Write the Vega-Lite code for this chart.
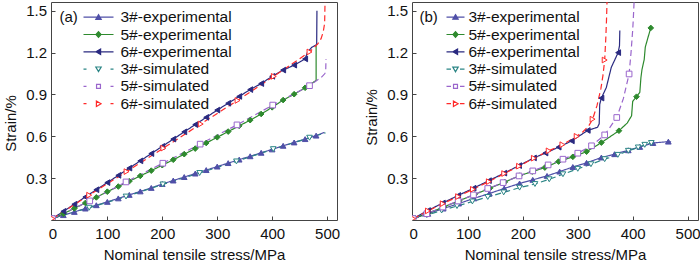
{
"$schema": "https://vega.github.io/schema/vega-lite/v6.json",
"background": "white",
"padding": {"left": 2, "top": 1, "right": 1, "bottom": 0},
"spacing": 22,
"config": {
  "font": "Liberation Sans",
  "view": {"stroke": "#444", "strokeWidth": 1},
  "axis": {"domain": false, "grid": false, "tickColor": "#444", "tickSize": -4, "tickWidth": 1, "labelFontSize": 15, "labelColor": "#111", "titleFontSize": 15, "titleFontWeight": "normal", "titleColor": "#111", "labelFlush": false, "labelOverlap": false},
  "axisX": {"labelPadding": 10.5, "titleY": 27},
  "axisY": {"labelPadding": 8.5, "titleX": -33},
  "legend": {"orient": "none", "titleOrient": "left", "titleAnchor": "start", "titleFontSize": 15, "titleFontWeight": "normal", "titleColor": "#111", "labelFontSize": 15.5, "labelColor": "#111", "clipHeight": 15, "rowPadding": 1.3, "padding": 0, "symbolStrokeWidth": 1.2, "symbolOpacity": 1, "titleBaseline": "top"}
},
"resolve": {
  "scale": {"color": "independent", "stroke": "independent", "fill": "independent", "shape": "independent", "strokeDash": "independent"},
  "legend": {"color": "independent", "stroke": "independent", "fill": "independent", "shape": "independent", "strokeDash": "independent"}
},
"datasets": {"d": [
{"p":"a","s":"3#-experimental","x":0,"y":0.01,"m":1},
{"p":"a","s":"3#-experimental","x":20,"y":0.035,"m":1},
{"p":"a","s":"3#-experimental","x":40,"y":0.058,"m":1},
{"p":"a","s":"3#-experimental","x":60,"y":0.082,"m":1},
{"p":"a","s":"3#-experimental","x":80,"y":0.106,"m":1},
{"p":"a","s":"3#-experimental","x":100,"y":0.13,"m":1},
{"p":"a","s":"3#-experimental","x":120,"y":0.155,"m":1},
{"p":"a","s":"3#-experimental","x":140,"y":0.18,"m":1},
{"p":"a","s":"3#-experimental","x":160,"y":0.205,"m":1},
{"p":"a","s":"3#-experimental","x":180,"y":0.23,"m":1},
{"p":"a","s":"3#-experimental","x":200,"y":0.258,"m":1},
{"p":"a","s":"3#-experimental","x":220,"y":0.283,"m":1},
{"p":"a","s":"3#-experimental","x":240,"y":0.308,"m":1},
{"p":"a","s":"3#-experimental","x":260,"y":0.333,"m":1},
{"p":"a","s":"3#-experimental","x":280,"y":0.358,"m":1},
{"p":"a","s":"3#-experimental","x":300,"y":0.383,"m":1},
{"p":"a","s":"3#-experimental","x":320,"y":0.408,"m":1},
{"p":"a","s":"3#-experimental","x":340,"y":0.433,"m":1},
{"p":"a","s":"3#-experimental","x":360,"y":0.457,"m":1},
{"p":"a","s":"3#-experimental","x":380,"y":0.482,"m":1},
{"p":"a","s":"3#-experimental","x":400,"y":0.506,"m":1},
{"p":"a","s":"3#-experimental","x":420,"y":0.532,"m":1},
{"p":"a","s":"3#-experimental","x":440,"y":0.556,"m":1},
{"p":"a","s":"3#-experimental","x":460,"y":0.58,"m":1},
{"p":"a","s":"3#-experimental","x":480,"y":0.605,"m":1},
{"p":"a","s":"3#-experimental","x":495,"y":0.628,"m":0},
{"p":"a","s":"5#-experimental","x":0,"y":0.01,"m":1},
{"p":"a","s":"5#-experimental","x":20,"y":0.045,"m":1},
{"p":"a","s":"5#-experimental","x":40,"y":0.083,"m":1},
{"p":"a","s":"5#-experimental","x":60,"y":0.122,"m":1},
{"p":"a","s":"5#-experimental","x":80,"y":0.162,"m":1},
{"p":"a","s":"5#-experimental","x":100,"y":0.203,"m":1},
{"p":"a","s":"5#-experimental","x":120,"y":0.24,"m":1},
{"p":"a","s":"5#-experimental","x":140,"y":0.278,"m":1},
{"p":"a","s":"5#-experimental","x":160,"y":0.316,"m":1},
{"p":"a","s":"5#-experimental","x":180,"y":0.354,"m":1},
{"p":"a","s":"5#-experimental","x":200,"y":0.393,"m":1},
{"p":"a","s":"5#-experimental","x":220,"y":0.432,"m":1},
{"p":"a","s":"5#-experimental","x":240,"y":0.472,"m":1},
{"p":"a","s":"5#-experimental","x":260,"y":0.512,"m":1},
{"p":"a","s":"5#-experimental","x":280,"y":0.552,"m":1},
{"p":"a","s":"5#-experimental","x":300,"y":0.593,"m":1},
{"p":"a","s":"5#-experimental","x":320,"y":0.634,"m":1},
{"p":"a","s":"5#-experimental","x":340,"y":0.675,"m":1},
{"p":"a","s":"5#-experimental","x":360,"y":0.716,"m":1},
{"p":"a","s":"5#-experimental","x":380,"y":0.76,"m":1},
{"p":"a","s":"5#-experimental","x":400,"y":0.808,"m":1},
{"p":"a","s":"5#-experimental","x":420,"y":0.86,"m":1},
{"p":"a","s":"5#-experimental","x":440,"y":0.902,"m":1},
{"p":"a","s":"5#-experimental","x":460,"y":0.948,"m":1},
{"p":"a","s":"5#-experimental","x":467,"y":0.967,"m":0},
{"p":"a","s":"5#-experimental","x":480,"y":1.0,"m":0},
{"p":"a","s":"5#-experimental","x":480,"y":1.25,"m":0},
{"p":"a","s":"6#-experimental","x":0,"y":0.01,"m":1},
{"p":"a","s":"6#-experimental","x":20,"y":0.062,"m":1},
{"p":"a","s":"6#-experimental","x":40,"y":0.113,"m":1},
{"p":"a","s":"6#-experimental","x":60,"y":0.165,"m":1},
{"p":"a","s":"6#-experimental","x":80,"y":0.217,"m":1},
{"p":"a","s":"6#-experimental","x":100,"y":0.268,"m":1},
{"p":"a","s":"6#-experimental","x":120,"y":0.32,"m":1},
{"p":"a","s":"6#-experimental","x":140,"y":0.372,"m":1},
{"p":"a","s":"6#-experimental","x":160,"y":0.424,"m":1},
{"p":"a","s":"6#-experimental","x":180,"y":0.476,"m":1},
{"p":"a","s":"6#-experimental","x":200,"y":0.528,"m":1},
{"p":"a","s":"6#-experimental","x":220,"y":0.58,"m":1},
{"p":"a","s":"6#-experimental","x":240,"y":0.632,"m":1},
{"p":"a","s":"6#-experimental","x":260,"y":0.684,"m":1},
{"p":"a","s":"6#-experimental","x":280,"y":0.736,"m":1},
{"p":"a","s":"6#-experimental","x":300,"y":0.788,"m":1},
{"p":"a","s":"6#-experimental","x":320,"y":0.837,"m":1},
{"p":"a","s":"6#-experimental","x":340,"y":0.886,"m":1},
{"p":"a","s":"6#-experimental","x":360,"y":0.935,"m":1},
{"p":"a","s":"6#-experimental","x":380,"y":0.978,"m":1},
{"p":"a","s":"6#-experimental","x":400,"y":1.03,"m":1},
{"p":"a","s":"6#-experimental","x":420,"y":1.075,"m":1},
{"p":"a","s":"6#-experimental","x":440,"y":1.11,"m":1},
{"p":"a","s":"6#-experimental","x":460,"y":1.155,"m":1},
{"p":"a","s":"6#-experimental","x":464,"y":1.2,"m":0},
{"p":"a","s":"6#-experimental","x":472,"y":1.238,"m":0},
{"p":"a","s":"6#-experimental","x":481,"y":1.258,"m":0},
{"p":"a","s":"6#-experimental","x":481.5,"y":1.5,"m":0},
{"p":"a","s":"3#-simulated","x":0,"y":0.01,"m":1},
{"p":"a","s":"3#-simulated","x":67,"y":0.088,"m":1},
{"p":"a","s":"3#-simulated","x":134,"y":0.168,"m":1},
{"p":"a","s":"3#-simulated","x":201,"y":0.255,"m":1},
{"p":"a","s":"3#-simulated","x":268,"y":0.337,"m":1},
{"p":"a","s":"3#-simulated","x":335,"y":0.42,"m":1},
{"p":"a","s":"3#-simulated","x":402,"y":0.508,"m":1},
{"p":"a","s":"3#-simulated","x":468,"y":0.59,"m":1},
{"p":"a","s":"3#-simulated","x":497,"y":0.625,"m":0},
{"p":"a","s":"5#-simulated","x":0,"y":0.01,"m":1},
{"p":"a","s":"5#-simulated","x":68,"y":0.137,"m":1},
{"p":"a","s":"5#-simulated","x":134,"y":0.273,"m":1},
{"p":"a","s":"5#-simulated","x":201,"y":0.407,"m":1},
{"p":"a","s":"5#-simulated","x":269,"y":0.544,"m":1},
{"p":"a","s":"5#-simulated","x":336,"y":0.682,"m":1},
{"p":"a","s":"5#-simulated","x":401,"y":0.824,"m":1},
{"p":"a","s":"5#-simulated","x":468,"y":0.963,"m":1},
{"p":"a","s":"5#-simulated","x":490,"y":1.025,"m":0},
{"p":"a","s":"5#-simulated","x":496,"y":1.05,"m":0},
{"p":"a","s":"5#-simulated","x":497.5,"y":1.08,"m":0},
{"p":"a","s":"5#-simulated","x":498,"y":1.155,"m":0},
{"p":"a","s":"6#-simulated","x":0,"y":0.01,"m":1},
{"p":"a","s":"6#-simulated","x":67,"y":0.178,"m":1},
{"p":"a","s":"6#-simulated","x":135,"y":0.347,"m":1},
{"p":"a","s":"6#-simulated","x":202,"y":0.515,"m":1},
{"p":"a","s":"6#-simulated","x":270,"y":0.688,"m":1},
{"p":"a","s":"6#-simulated","x":337,"y":0.857,"m":1},
{"p":"a","s":"6#-simulated","x":403,"y":1.03,"m":1},
{"p":"a","s":"6#-simulated","x":468,"y":1.205,"m":1},
{"p":"a","s":"6#-simulated","x":483,"y":1.262,"m":0},
{"p":"a","s":"6#-simulated","x":489,"y":1.3,"m":0},
{"p":"a","s":"6#-simulated","x":493,"y":1.35,"m":0},
{"p":"a","s":"6#-simulated","x":495.5,"y":1.41,"m":0},
{"p":"a","s":"6#-simulated","x":496.4,"y":1.6,"m":0},
{"p":"b","s":"3#-experimental","x":0,"y":0.01,"m":1},
{"p":"b","s":"3#-experimental","x":27,"y":0.045,"m":1},
{"p":"b","s":"3#-experimental","x":55,"y":0.082,"m":1},
{"p":"b","s":"3#-experimental","x":83,"y":0.118,"m":1},
{"p":"b","s":"3#-experimental","x":111,"y":0.155,"m":1},
{"p":"b","s":"3#-experimental","x":139,"y":0.19,"m":1},
{"p":"b","s":"3#-experimental","x":166,"y":0.226,"m":1},
{"p":"b","s":"3#-experimental","x":194,"y":0.262,"m":1},
{"p":"b","s":"3#-experimental","x":218,"y":0.288,"m":1},
{"p":"b","s":"3#-experimental","x":244,"y":0.316,"m":1},
{"p":"b","s":"3#-experimental","x":267,"y":0.347,"m":1},
{"p":"b","s":"3#-experimental","x":291,"y":0.38,"m":1},
{"p":"b","s":"3#-experimental","x":316,"y":0.41,"m":1},
{"p":"b","s":"3#-experimental","x":343,"y":0.448,"m":1},
{"p":"b","s":"3#-experimental","x":367,"y":0.472,"m":1},
{"p":"b","s":"3#-experimental","x":392,"y":0.5,"m":1},
{"p":"b","s":"3#-experimental","x":413,"y":0.524,"m":1},
{"p":"b","s":"3#-experimental","x":437,"y":0.552,"m":1},
{"p":"b","s":"3#-experimental","x":465,"y":0.562,"m":1},
{"p":"b","s":"3#-experimental","x":470,"y":0.56,"m":0},
{"p":"b","s":"5#-experimental","x":0,"y":0.01,"m":1},
{"p":"b","s":"5#-experimental","x":28,"y":0.05,"m":1},
{"p":"b","s":"5#-experimental","x":56,"y":0.094,"m":1},
{"p":"b","s":"5#-experimental","x":84,"y":0.138,"m":1},
{"p":"b","s":"5#-experimental","x":112,"y":0.183,"m":1},
{"p":"b","s":"5#-experimental","x":140,"y":0.228,"m":1},
{"p":"b","s":"5#-experimental","x":167,"y":0.272,"m":1},
{"p":"b","s":"5#-experimental","x":194,"y":0.318,"m":1},
{"p":"b","s":"5#-experimental","x":217,"y":0.347,"m":1},
{"p":"b","s":"5#-experimental","x":240,"y":0.376,"m":1},
{"p":"b","s":"5#-experimental","x":265,"y":0.419,"m":1},
{"p":"b","s":"5#-experimental","x":291,"y":0.453,"m":1},
{"p":"b","s":"5#-experimental","x":316,"y":0.49,"m":1},
{"p":"b","s":"5#-experimental","x":343,"y":0.555,"m":1},
{"p":"b","s":"5#-experimental","x":375,"y":0.64,"m":1},
{"p":"b","s":"5#-experimental","x":390,"y":0.695,"m":0},
{"p":"b","s":"5#-experimental","x":398,"y":0.747,"m":0},
{"p":"b","s":"5#-experimental","x":400,"y":0.85,"m":0},
{"p":"b","s":"5#-experimental","x":407,"y":0.884,"m":1},
{"p":"b","s":"5#-experimental","x":413,"y":0.915,"m":0},
{"p":"b","s":"5#-experimental","x":415,"y":1.02,"m":0},
{"p":"b","s":"5#-experimental","x":417,"y":1.08,"m":0},
{"p":"b","s":"5#-experimental","x":421,"y":1.15,"m":0},
{"p":"b","s":"5#-experimental","x":423,"y":1.24,"m":0},
{"p":"b","s":"5#-experimental","x":428,"y":1.31,"m":0},
{"p":"b","s":"5#-experimental","x":433,"y":1.377,"m":1},
{"p":"b","s":"6#-experimental","x":0,"y":0.01,"m":1},
{"p":"b","s":"6#-experimental","x":27,"y":0.068,"m":1},
{"p":"b","s":"6#-experimental","x":54,"y":0.122,"m":1},
{"p":"b","s":"6#-experimental","x":82,"y":0.176,"m":1},
{"p":"b","s":"6#-experimental","x":110,"y":0.228,"m":1},
{"p":"b","s":"6#-experimental","x":138,"y":0.282,"m":1},
{"p":"b","s":"6#-experimental","x":166,"y":0.336,"m":1},
{"p":"b","s":"6#-experimental","x":193,"y":0.39,"m":1},
{"p":"b","s":"6#-experimental","x":220,"y":0.445,"m":1},
{"p":"b","s":"6#-experimental","x":241,"y":0.48,"m":1},
{"p":"b","s":"6#-experimental","x":265,"y":0.522,"m":1},
{"p":"b","s":"6#-experimental","x":289,"y":0.567,"m":1},
{"p":"b","s":"6#-experimental","x":318,"y":0.642,"m":1},
{"p":"b","s":"6#-experimental","x":336,"y":0.665,"m":0},
{"p":"b","s":"6#-experimental","x":339,"y":0.69,"m":0},
{"p":"b","s":"6#-experimental","x":340,"y":0.83,"m":0},
{"p":"b","s":"6#-experimental","x":343,"y":0.874,"m":1},
{"p":"b","s":"6#-experimental","x":352,"y":0.95,"m":0},
{"p":"b","s":"6#-experimental","x":361,"y":1.094,"m":0},
{"p":"b","s":"6#-experimental","x":373.5,"y":1.2,"m":1},
{"p":"b","s":"6#-experimental","x":376,"y":1.25,"m":0},
{"p":"b","s":"6#-experimental","x":376.6,"y":1.358,"m":0},
{"p":"b","s":"3#-simulated","x":0,"y":0.01,"m":1},
{"p":"b","s":"3#-simulated","x":25,"y":0.035,"m":1},
{"p":"b","s":"3#-simulated","x":52,"y":0.068,"m":1},
{"p":"b","s":"3#-simulated","x":80,"y":0.1,"m":1},
{"p":"b","s":"3#-simulated","x":108,"y":0.133,"m":1},
{"p":"b","s":"3#-simulated","x":136,"y":0.165,"m":1},
{"p":"b","s":"3#-simulated","x":165,"y":0.198,"m":1},
{"p":"b","s":"3#-simulated","x":194,"y":0.232,"m":1},
{"p":"b","s":"3#-simulated","x":222,"y":0.258,"m":1},
{"p":"b","s":"3#-simulated","x":248,"y":0.292,"m":1},
{"p":"b","s":"3#-simulated","x":273,"y":0.328,"m":1},
{"p":"b","s":"3#-simulated","x":300,"y":0.367,"m":1},
{"p":"b","s":"3#-simulated","x":324,"y":0.4,"m":1},
{"p":"b","s":"3#-simulated","x":349,"y":0.436,"m":1},
{"p":"b","s":"3#-simulated","x":373,"y":0.467,"m":1},
{"p":"b","s":"3#-simulated","x":392,"y":0.496,"m":1},
{"p":"b","s":"3#-simulated","x":410,"y":0.52,"m":1},
{"p":"b","s":"3#-simulated","x":422,"y":0.539,"m":1},
{"p":"b","s":"3#-simulated","x":434,"y":0.552,"m":1},
{"p":"b","s":"3#-simulated","x":437,"y":0.555,"m":0},
{"p":"b","s":"5#-simulated","x":0,"y":0.01,"m":1},
{"p":"b","s":"5#-simulated","x":25,"y":0.045,"m":1},
{"p":"b","s":"5#-simulated","x":54,"y":0.093,"m":1},
{"p":"b","s":"5#-simulated","x":82,"y":0.136,"m":1},
{"p":"b","s":"5#-simulated","x":110,"y":0.18,"m":1},
{"p":"b","s":"5#-simulated","x":136,"y":0.226,"m":1},
{"p":"b","s":"5#-simulated","x":164,"y":0.268,"m":1},
{"p":"b","s":"5#-simulated","x":193,"y":0.316,"m":1},
{"p":"b","s":"5#-simulated","x":218,"y":0.352,"m":1},
{"p":"b","s":"5#-simulated","x":246,"y":0.395,"m":1},
{"p":"b","s":"5#-simulated","x":273,"y":0.436,"m":1},
{"p":"b","s":"5#-simulated","x":300,"y":0.479,"m":1},
{"p":"b","s":"5#-simulated","x":325,"y":0.532,"m":1},
{"p":"b","s":"5#-simulated","x":349,"y":0.61,"m":1},
{"p":"b","s":"5#-simulated","x":371,"y":0.735,"m":1},
{"p":"b","s":"5#-simulated","x":383,"y":0.87,"m":0},
{"p":"b","s":"5#-simulated","x":393.5,"y":1.047,"m":1},
{"p":"b","s":"5#-simulated","x":397,"y":1.2,"m":0},
{"p":"b","s":"5#-simulated","x":400,"y":1.36,"m":0},
{"p":"b","s":"5#-simulated","x":401,"y":1.43,"m":0},
{"p":"b","s":"5#-simulated","x":403,"y":1.6,"m":0},
{"p":"b","s":"6#-simulated","x":0,"y":0.01,"m":1},
{"p":"b","s":"6#-simulated","x":27,"y":0.065,"m":1},
{"p":"b","s":"6#-simulated","x":54,"y":0.117,"m":1},
{"p":"b","s":"6#-simulated","x":82,"y":0.168,"m":1},
{"p":"b","s":"6#-simulated","x":109,"y":0.22,"m":1},
{"p":"b","s":"6#-simulated","x":138,"y":0.275,"m":1},
{"p":"b","s":"6#-simulated","x":166,"y":0.333,"m":1},
{"p":"b","s":"6#-simulated","x":193,"y":0.386,"m":1},
{"p":"b","s":"6#-simulated","x":220,"y":0.443,"m":1},
{"p":"b","s":"6#-simulated","x":247,"y":0.496,"m":1},
{"p":"b","s":"6#-simulated","x":272,"y":0.54,"m":1},
{"p":"b","s":"6#-simulated","x":298,"y":0.6,"m":1},
{"p":"b","s":"6#-simulated","x":310,"y":0.635,"m":0},
{"p":"b","s":"6#-simulated","x":320,"y":0.675,"m":0},
{"p":"b","s":"6#-simulated","x":327,"y":0.723,"m":1},
{"p":"b","s":"6#-simulated","x":335,"y":0.82,"m":0},
{"p":"b","s":"6#-simulated","x":342,"y":0.94,"m":0},
{"p":"b","s":"6#-simulated","x":346,"y":1.04,"m":0},
{"p":"b","s":"6#-simulated","x":349,"y":1.147,"m":1},
{"p":"b","s":"6#-simulated","x":351,"y":1.3,"m":0},
{"p":"b","s":"6#-simulated","x":352.3,"y":1.43,"m":0},
{"p":"b","s":"6#-simulated","x":353.5,"y":1.6,"m":0}
]},
"hconcat": [
{
  "width": 286, "height": 218,
  "data": {"name": "d"},
  "transform": [{"filter": "datum.p == 'a'"}],
  "encoding": {
    "x": {"field": "x", "type": "quantitative", "scale": {"domain": [-2.5, 518], "nice": false, "zero": false}, "axis": {"values": [0,100,200,300,400,500], "title": "Nominal tensile stress/MPa"}},
    "y": {"field": "y", "type": "quantitative", "scale": {"domain": [0, 1.563], "nice": false}, "axis": {"values": [0.3,0.6,0.9,1.2,1.5], "format": ".1f", "title": "Strain/%", "titleY": 121}}
  },
  "resolve": {"scale": {"shape": "independent", "stroke": "independent", "fill": "independent"}},
  "layer": [
    {"mark": {"type": "line", "strokeWidth": 1.2, "clip": true},
     "encoding": {
       "color": {"field": "s", "type": "nominal", "scale": {"domain": ["3#-experimental","5#-experimental","6#-experimental","3#-simulated","5#-simulated","6#-simulated"], "range": ["#5050a8","#2e8a2e","#2a2a80","#2b8585","#9a66cc","#ff2a2a"]}, "legend": null},
       "strokeDash": {"field": "s", "type": "nominal", "scale": {"domain": ["3#-experimental","5#-experimental","6#-experimental","3#-simulated","5#-simulated","6#-simulated"], "range": [[1,0],[1,0],[1,0],[6,3.5],[6,3.5],[6,3.5]]}, "legend": null},
       "order": {"value": null}
     }},
    {"transform": [{"filter": "datum.m == 1"}],
     "mark": {"type": "point", "size": 32, "opacity": 1, "strokeWidth": 1, "clip": true},
     "encoding": {
       "shape": {"field": "s", "type": "nominal", "scale": {"domain": ["3#-experimental","5#-experimental","6#-experimental","3#-simulated","5#-simulated","6#-simulated"], "range": ["triangle-up","diamond","triangle-left","triangle-down","square","triangle-right"]}, "legend": null},
       "stroke": {"field": "s", "type": "nominal", "scale": {"domain": ["3#-experimental","5#-experimental","6#-experimental","3#-simulated","5#-simulated","6#-simulated"], "range": ["#5050a8","#2e8a2e","#2a2a80","#2b8585","#9a66cc","#ff2a2a"]}, "legend": null},
       "fill": {"field": "s", "type": "nominal", "scale": {"domain": ["3#-experimental","5#-experimental","6#-experimental","3#-simulated","5#-simulated","6#-simulated"], "range": ["#5050a8","#2e8a2e","#2a2a80","#ffffff","#ffffff","#ffffff"]}, "legend": null}
     }},
    {"transform": [{"filter": "datum.m == 9"}],
     "mark": {"type": "point", "opacity": 1, "strokeWidth": 1.2},
     "encoding": {
       "shape": {"field": "s", "type": "nominal", "scale": {"domain": ["3#-experimental","5#-experimental","6#-experimental","3#-simulated","5#-simulated","6#-simulated"], "range": ["M-1,0H1M0,-0.17L0.18,0.14L-0.18,0.14Z","M-1,0H1M0,-0.19L0.17,0L0,0.19L-0.17,0Z","M-1,0H1M-0.17,0L0.14,-0.18L0.14,0.18Z","M-1,0H-0.8M0.8,0H1M-0.18,-0.14L0.18,-0.14L0,0.17Z","M-1,0H-0.8M0.8,0H1M-0.13,-0.13H0.13V0.13H-0.13Z","M-1,0H-0.8M0.8,0H1M0.17,0L-0.14,-0.18L-0.14,0.18Z"]},
         "legend": {"title": "(a)", "legendX": 8.5, "legendY": 7.7, "symbolSize": 900, "titlePadding": 4, "labelOffset": 6}},
       "stroke": {"field": "s", "type": "nominal", "scale": {"domain": ["3#-experimental","5#-experimental","6#-experimental","3#-simulated","5#-simulated","6#-simulated"], "range": ["#5050a8","#2e8a2e","#2a2a80","#2b8585","#9a66cc","#ff2a2a"]},
         "legend": {"title": "(a)", "legendX": 8.5, "legendY": 7.7, "symbolSize": 900, "titlePadding": 4, "labelOffset": 6}},
       "fill": {"field": "s", "type": "nominal", "scale": {"domain": ["3#-experimental","5#-experimental","6#-experimental","3#-simulated","5#-simulated","6#-simulated"], "range": ["#5050a8","#2e8a2e","#2a2a80","#ffffff","#ffffff","#ffffff"]},
         "legend": {"title": "(a)", "legendX": 8.5, "legendY": 7.7, "symbolSize": 900, "titlePadding": 4, "labelOffset": 6}}
     }}
  ]
},
{
  "width": 286, "height": 218,
  "data": {"name": "d"},
  "transform": [{"filter": "datum.p == 'b'"}],
  "encoding": {
    "x": {"field": "x", "type": "quantitative", "scale": {"domain": [-2, 519], "nice": false, "zero": false}, "axis": {"values": [0,100,200,300,400,500], "title": "Nominal tensile stress/MPa"}},
    "y": {"field": "y", "type": "quantitative", "scale": {"domain": [0, 1.563], "nice": false}, "axis": {"values": [0.3,0.6,0.9,1.2,1.5], "format": ".1f", "title": "Strain/%", "titleY": 115}}
  },
  "resolve": {"scale": {"shape": "independent", "stroke": "independent", "fill": "independent"}},
  "layer": [
    {"mark": {"type": "line", "strokeWidth": 1.2, "clip": true},
     "encoding": {
       "color": {"field": "s", "type": "nominal", "scale": {"domain": ["3#-experimental","5#-experimental","6#-experimental","3#-simulated","5#-simulated","6#-simulated"], "range": ["#5050a8","#2e8a2e","#2a2a80","#2b8585","#9a66cc","#ff2a2a"]}, "legend": null},
       "strokeDash": {"field": "s", "type": "nominal", "scale": {"domain": ["3#-experimental","5#-experimental","6#-experimental","3#-simulated","5#-simulated","6#-simulated"], "range": [[1,0],[1,0],[1,0],[6,3.5],[6,3.5],[6,3.5]]}, "legend": null},
       "order": {"value": null}
     }},
    {"transform": [{"filter": "datum.m == 1"}],
     "mark": {"type": "point", "size": 32, "opacity": 1, "strokeWidth": 1, "clip": true},
     "encoding": {
       "shape": {"field": "s", "type": "nominal", "scale": {"domain": ["3#-experimental","5#-experimental","6#-experimental","3#-simulated","5#-simulated","6#-simulated"], "range": ["triangle-up","diamond","triangle-left","triangle-down","square","triangle-right"]}, "legend": null},
       "stroke": {"field": "s", "type": "nominal", "scale": {"domain": ["3#-experimental","5#-experimental","6#-experimental","3#-simulated","5#-simulated","6#-simulated"], "range": ["#5050a8","#2e8a2e","#2a2a80","#2b8585","#9a66cc","#ff2a2a"]}, "legend": null},
       "fill": {"field": "s", "type": "nominal", "scale": {"domain": ["3#-experimental","5#-experimental","6#-experimental","3#-simulated","5#-simulated","6#-simulated"], "range": ["#5050a8","#2e8a2e","#2a2a80","#ffffff","#ffffff","#ffffff"]}, "legend": null}
     }},
    {"transform": [{"filter": "datum.m == 9"}],
     "mark": {"type": "point", "opacity": 1, "strokeWidth": 1.2},
     "encoding": {
       "shape": {"field": "s", "type": "nominal", "scale": {"domain": ["3#-experimental","5#-experimental","6#-experimental","3#-simulated","5#-simulated","6#-simulated"], "range": ["M-1,0H1M0,-0.29L0.3,0.23L-0.3,0.23Z","M-1,0H1M0,-0.32L0.28,0L0,0.32L-0.28,0Z","M-1,0H1M-0.29,0L0.23,-0.3L0.23,0.3Z","M-1,0H-0.5M0.5,0H1M-0.3,-0.23L0.3,-0.23L0,0.29Z","M-1,0H-0.5M0.5,0H1M-0.22,-0.22H0.22V0.22H-0.22Z","M-1,0H-0.5M0.5,0H1M0.29,0L-0.23,-0.3L-0.23,0.3Z"]},
         "legend": {"title": "(b)", "legendX": 7.5, "legendY": 7.7, "symbolSize": 324, "titlePadding": 7, "labelOffset": 3}},
       "stroke": {"field": "s", "type": "nominal", "scale": {"domain": ["3#-experimental","5#-experimental","6#-experimental","3#-simulated","5#-simulated","6#-simulated"], "range": ["#5050a8","#2e8a2e","#2a2a80","#2b8585","#9a66cc","#ff2a2a"]},
         "legend": {"title": "(b)", "legendX": 7.5, "legendY": 7.7, "symbolSize": 324, "titlePadding": 7, "labelOffset": 3}},
       "fill": {"field": "s", "type": "nominal", "scale": {"domain": ["3#-experimental","5#-experimental","6#-experimental","3#-simulated","5#-simulated","6#-simulated"], "range": ["#5050a8","#2e8a2e","#2a2a80","#ffffff","#ffffff","#ffffff"]},
         "legend": {"title": "(b)", "legendX": 7.5, "legendY": 7.7, "symbolSize": 324, "titlePadding": 7, "labelOffset": 3}}
     }}
  ]
}
]
}
